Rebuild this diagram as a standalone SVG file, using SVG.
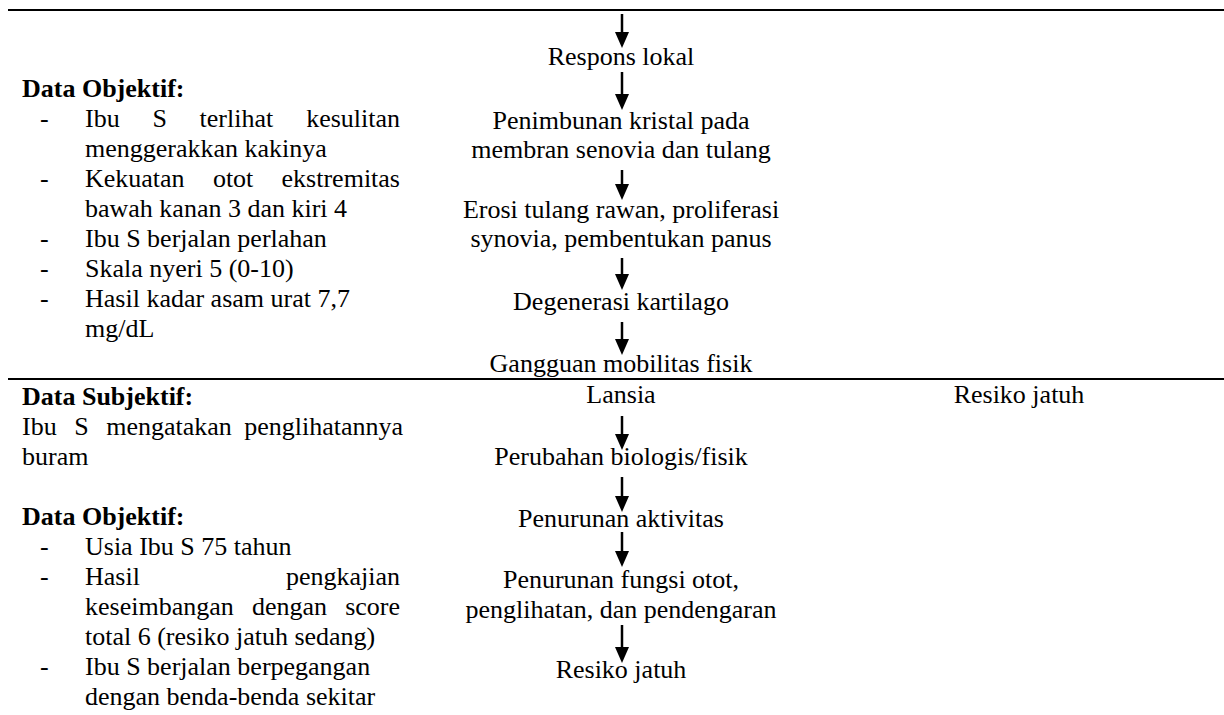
<svg xmlns="http://www.w3.org/2000/svg" width="1224" height="715" viewBox="0 0 1224 715">
<style>
text{font-family:'Liberation Serif','Times New Roman',serif;font-size:26px;fill:#000}
.c{text-anchor:middle}
.b{font-weight:bold}
.e{text-anchor:end}
.rule{stroke:#000;stroke-width:2}
.arr{stroke:#000;stroke-width:2.5;fill:none;marker-end:url(#ah)}
</style>
<defs>
<marker id="ah" markerUnits="userSpaceOnUse" markerWidth="16" markerHeight="14" refX="6" refY="7" orient="auto">
<path d="M0,0 L16,7 L0,14 Z" fill="#000"/>
</marker>
</defs>
<rect width="1224" height="715" fill="#fff"/>
<g id="rules">
<line class="rule" x1="8" y1="10" x2="1224" y2="10"/>
<line class="rule" x1="8" y1="379" x2="1224" y2="379"/>
</g>
<g id="left-top">
<text class="b" x="22" y="97">Data Objektif:</text>
<text x="40" y="127">-</text>
<text y="127"><tspan x="85">Ibu</tspan><tspan x="152.4">S</tspan><tspan x="199.6">terlihat</tspan><tspan x="400" class="e">kesulitan</tspan></text>
<text x="85" y="157">menggerakkan kakinya</text>
<text x="40" y="187">-</text>
<text y="187"><tspan x="85">Kekuatan</tspan><tspan x="212.9">otot</tspan><tspan x="400" class="e">ekstremitas</tspan></text>
<text x="85" y="217">bawah kanan 3 dan kiri 4</text>
<text x="40" y="247">-</text>
<text x="85" y="247">Ibu S berjalan perlahan</text>
<text x="40" y="277">-</text>
<text x="85" y="277">Skala nyeri 5 (0-10)</text>
<text x="40" y="307">-</text>
<text x="85" y="307">Hasil kadar asam urat 7,7</text>
<text x="85" y="337">mg/dL</text>
</g>
<g id="left-bottom">
<text class="b" x="22" y="405">Data Subjektif:</text>
<text y="435"><tspan x="22">Ibu</tspan><tspan x="74.2">S</tspan><tspan x="106.2">mengatakan</tspan><tspan x="403" class="e">penglihatannya</tspan></text>
<text x="22" y="465">buram</text>
<text class="b" x="22" y="525">Data Objektif:</text>
<text x="40" y="555">-</text>
<text x="85" y="555">Usia Ibu S 75 tahun</text>
<text x="40" y="585">-</text>
<text y="585"><tspan x="85">Hasil</tspan><tspan x="400" class="e">pengkajian</tspan></text>
<text y="615"><tspan x="85">keseimbangan</tspan><tspan x="251.9">dengan</tspan><tspan x="400" class="e">score</tspan></text>
<text x="85" y="645">total 6 (resiko jatuh sedang)</text>
<text x="40" y="675">-</text>
<text x="85" y="675">Ibu S berjalan berpegangan</text>
<text x="85" y="705">dengan benda-benda sekitar</text>
</g>
<g id="n-respons"><text class="c" x="621" y="65">Respons lokal</text></g>
<g id="n-penimbunan"><text class="c" x="621" y="129">Penimbunan kristal pada</text><text class="c" x="621" y="158">membran senovia dan tulang</text></g>
<g id="n-erosi"><text class="c" x="621" y="218">Erosi tulang rawan, proliferasi</text><text class="c" x="621" y="247">synovia, pembentukan panus</text></g>
<g id="n-degenerasi"><text class="c" x="621" y="310">Degenerasi kartilago</text></g>
<g id="n-gangguan"><text class="c" x="621" y="372">Gangguan mobilitas fisik</text></g>
<g id="n-lansia"><text class="c" x="621" y="403">Lansia</text></g>
<g id="n-resiko-label"><text class="c" x="1019" y="403">Resiko jatuh</text></g>
<g id="n-perubahan"><text class="c" x="621" y="465">Perubahan biologis/fisik</text></g>
<g id="n-aktivitas"><text class="c" x="621" y="527">Penurunan aktivitas</text></g>
<g id="n-fungsi"><text class="c" x="621" y="588">Penurunan fungsi otot,</text><text class="c" x="621" y="618">penglihatan, dan pendengaran</text></g>
<g id="n-resiko"><text class="c" x="621" y="678">Resiko jatuh</text></g>
<g id="connectors">
<line class="arr" x1="622" y1="14" x2="622" y2="38"/>
<line class="arr" x1="622" y1="72" x2="622" y2="100"/>
<line class="arr" x1="622" y1="170" x2="622" y2="190"/>
<line class="arr" x1="622" y1="258" x2="622" y2="280"/>
<line class="arr" x1="622" y1="322" x2="622" y2="345"/>
<line class="arr" x1="622" y1="416" x2="622" y2="440"/>
<line class="arr" x1="622" y1="477" x2="622" y2="502"/>
<line class="arr" x1="622" y1="532" x2="622" y2="557"/>
<line class="arr" x1="622" y1="625" x2="622" y2="653"/>
</g>
</svg>
